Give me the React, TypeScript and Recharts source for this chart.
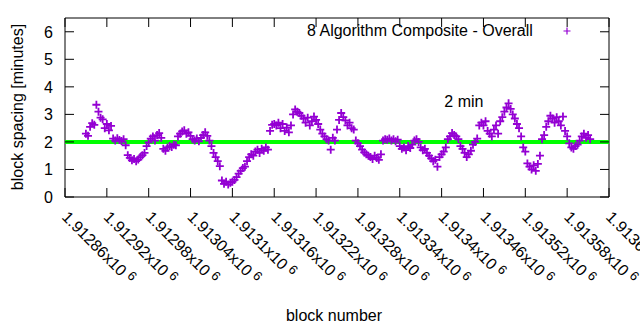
import React from 'react';
import { ScatterChart, Scatter, XAxis, YAxis, ReferenceLine, ReferenceDot, ReferenceArea, Legend, Label } from 'recharts';

// ---- data ----
const START_BLOCK = 1912890;
const BLOCK_STEP = 3;
const SPACING: number[] = [
  2.3, 2.22, 2.55, 2.68, 2.62, 3.35, 3.1, 2.88, 2.82, 2.5,
  2.65, 2.42, 2.58, 2.12, 2.05, 2.13, 2.07, 2.03, 2.1, 1.88,
  1.52, 1.42, 1.33, 1.38, 1.3, 1.36, 1.45, 1.52, 1.6, 1.85,
  1.98, 2.12, 2.2, 2.05, 2.25, 2.32, 2.15, 1.75, 1.68, 1.8,
  1.85, 1.82, 1.9, 1.88, 2.2, 2.3, 2.38, 2.42, 2.3, 2.35,
  2.22, 2.1, 2.05, 2.12, 2.02, 2.15, 2.25, 2.35, 2.22, 2.05,
  1.85, 1.6, 1.45, 1.3, 1.12, 0.6, 0.48, 0.55, 0.45, 0.52,
  0.55, 0.62, 0.72, 0.85, 0.95, 1.05, 1.1, 1.3, 1.45, 1.55,
  1.5, 1.65, 1.72, 1.6, 1.75, 1.68, 1.8, 1.72, 2.4, 2.62,
  2.65, 2.6, 2.7, 2.5, 2.65, 2.4, 2.52, 2.35, 2.6, 3.0,
  3.18, 3.1, 3.05, 2.95, 2.85, 2.7, 2.88, 2.6, 2.75, 2.92,
  2.8, 2.65, 2.45, 2.3, 2.2, 2.1, 2.05, 1.72, 2.15, 2.05,
  2.45, 2.8, 3.05, 2.9, 2.78, 2.6, 2.7, 2.5, 2.45, 2.05,
  1.95, 1.85, 1.72, 1.62, 1.55, 1.5, 1.45, 1.38, 1.5, 1.42,
  1.35, 1.55, 2.05, 2.1, 2.08, 2.12, 2.05, 2.1, 2.02, 2.08,
  1.85, 1.75, 1.8, 1.7, 1.85, 1.78, 1.9, 2.05, 2.1, 2.0,
  1.8, 1.7, 1.75, 1.6, 1.5, 1.4, 1.3, 1.35, 1.1, 1.45,
  1.55, 1.65, 1.8, 2.1, 2.2, 2.32, 2.25, 2.2, 2.1, 1.85,
  1.75, 1.6, 1.45, 1.55, 1.68, 1.9, 2.0, 2.12, 2.6, 2.7,
  2.6, 2.75, 2.4, 2.3, 2.2, 2.45, 2.6, 2.3, 2.75, 2.9,
  3.1, 3.25, 3.4, 3.2, 3.0, 2.85, 2.65, 2.5, 2.2, 1.8,
  1.65, 1.22, 1.1, 1.0, 1.15, 0.95, 1.2, 1.5, 2.1, 2.25,
  2.55, 2.75, 2.95, 2.85, 2.7, 2.9, 2.75, 2.6, 2.92, 2.4,
  2.2, 1.95, 1.8, 1.75, 1.85, 1.9, 2.05, 2.2, 2.3, 2.15, 2.25, 2.1,
];
const X_TICKS = [
  1912860, 1912920, 1912980, 1913040, 1913100, 1913160, 1913220,
  1913280, 1913340, 1913400, 1913460, 1913520, 1913580, 1913640,
];
const X_TICK_LABELS = [
  '1.91286', '1.91292', '1.91298', '1.91304', '1.9131', '1.91316', '1.91322',
  '1.91328', '1.91334', '1.9134', '1.91346', '1.91352', '1.91358', '1.91364',
];
const Y_TICKS = [0, 1, 2, 3, 4, 5, 6];
const X_DOMAIN = [1912860, 1913640];
const Y_DOMAIN = [0, 6.5];
const TARGET_MINUTES = 2;
const TARGET_LABEL = '2 min';
const TARGET_LABEL_POS = { block: 1913432, value: 3.49 };
const SERIES_NAME = '8 Algorithm Composite - Overall';
const X_TITLE = 'block number';
const Y_TITLE = 'block spacing [minutes]';

const data = SPACING.map((v, i) => ({ block: START_BLOCK + i * BLOCK_STEP, spacing: v }));

// ---- styles ----
const FONT = '"Liberation Sans", Arial, sans-serif';
const PURPLE = '#9400d3';
const W = 640;
const H = 330;
const PLOT = { left: 65, right: 609, top: 18, bottom: 197 };
const TICK_LEN = 9;

const Plus = (props: any) => {
  const { cx, cy } = props;
  if (cx == null || cy == null) return null;
  const s = 4;
  return (
    <path
      d={`M${cx - s},${cy}H${cx + s}M${cx},${cy - s}V${cy + s}`}
      stroke={PURPLE}
      strokeWidth={1.8}
      fill="none"
    />
  );
};

const XTick = (props: any) => {
  const { x, index } = props;
  const label = X_TICK_LABELS[index] ?? '';
  const ax = x - 4;
  const ay = 218;
  return (
    <g>
      <line x1={x} x2={x} y1={PLOT.bottom} y2={PLOT.bottom - TICK_LEN} stroke="#000" />
      <line x1={x} x2={x} y1={PLOT.top} y2={PLOT.top + TICK_LEN} stroke="#000" />
      <text
        x={ax}
        y={ay}
        transform={`rotate(45 ${ax} ${ay})`}
        textAnchor="start"
        fontFamily={FONT}
        fontSize={16}
        fill="#000"
      >
        {label}x10
        <tspan dx={4} dy={-5} fontSize={13}>6</tspan>
      </text>
    </g>
  );
};

const YTick = (props: any) => {
  const { y, payload } = props;
  return (
    <g>
      <line x1={PLOT.left} x2={PLOT.left + TICK_LEN} y1={y} y2={y} stroke="#000" />
      <line x1={PLOT.right} x2={PLOT.right - TICK_LEN} y1={y} y2={y} stroke="#000" />
      <text x={53} y={y + 6} textAnchor="end" fontFamily={FONT} fontSize={16} fill="#000">
        {payload.value}
      </text>
    </g>
  );
};

const LegendContent = () => (
  <div
    style={{
      display: 'flex',
      alignItems: 'center',
      fontFamily: FONT,
      fontSize: 16,
      color: '#000',
      whiteSpace: 'nowrap',
    }}
  >
    <span>{SERIES_NAME}</span>
    <svg width={10} height={10} style={{ marginLeft: 29 }}>
      <path d="M1.5,5H8.5M5,1.5V8.5" stroke={PURPLE} strokeWidth={1.2} fill="none" />
    </svg>
  </div>
);

export default function App() {
  return (
    <div style={{ position: 'absolute', left: 0, top: 0, width: W, height: H, background: '#fff' }}>
      <ScatterChart
        width={W}
        height={H}
        margin={{ top: PLOT.top, right: W - PLOT.right, bottom: 0, left: 0 }}
      >
        <XAxis
          type="number"
          dataKey="block"
          domain={X_DOMAIN}
          ticks={X_TICKS}
          interval={0}
          allowDataOverflow
          height={H - PLOT.bottom}
          axisLine={false}
          tickLine={false}
          tick={<XTick />}
        >
          <Label
            content={() => (
              <text x={334} y={321} textAnchor="middle" fontFamily={FONT} fontSize={16} fill="#000">
                {X_TITLE}
              </text>
            )}
          />
        </XAxis>
        <YAxis
          type="number"
          dataKey="spacing"
          domain={Y_DOMAIN}
          ticks={Y_TICKS}
          interval={0}
          allowDataOverflow
          width={PLOT.left}
          axisLine={false}
          tickLine={false}
          tick={<YTick />}
        >
          <Label
            content={() => (
              <text
                x={23}
                y={107}
                transform="rotate(-90 23 107)"
                textAnchor="middle"
                fontFamily={FONT}
                fontSize={16}
                fill="#000"
              >
                {Y_TITLE}
              </text>
            )}
          />
        </YAxis>
        <Scatter
          name={SERIES_NAME}
          data={data}
          shape={<Plus />}
          isAnimationActive={false}
        />
        <ReferenceLine y={TARGET_MINUTES} stroke="#00ff00" strokeWidth={4} />
        <ReferenceDot
          x={TARGET_LABEL_POS.block}
          y={TARGET_LABEL_POS.value}
          r={1}
          fill="none"
          stroke="none"
          label={{ value: TARGET_LABEL, position: 'center', fill: '#000', fontSize: 16, fontFamily: FONT }}
        />
        <ReferenceArea
          x1={X_DOMAIN[0]}
          x2={X_DOMAIN[1]}
          y1={Y_DOMAIN[0]}
          y2={Y_DOMAIN[1]}
          fill="none"
          fillOpacity={0}
          stroke="#000"
          strokeWidth={1}
        />
        <Legend
          layout="vertical"
          align="center"
          verticalAlign="middle"
          content={<LegendContent />}
          wrapperStyle={{ top: 22, left: 307, width: 300, height: 20 }}
        />
      </ScatterChart>
    </div>
  );
}
